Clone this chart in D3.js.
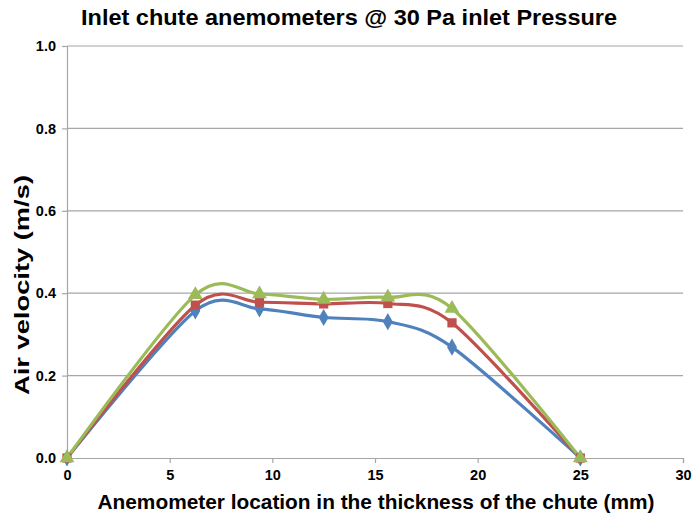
<!DOCTYPE html>
<html><head><meta charset="utf-8">
<script src="https://cdn.jsdelivr.net/npm/d3@7"></script>
<style>body{margin:0;background:#fff}svg{display:block}text{font-family:"Liberation Sans",Arial,sans-serif;font-weight:bold;fill:#000}</style>
</head><body>
<script>
const xPos = [0, 6.25, 9.375, 12.5, 15.625, 18.75, 25];
const seriesBlue = [0, 0.357, 0.362, 0.341, 0.331, 0.269, 0];
const seriesRed = [0, 0.371, 0.378, 0.374, 0.375, 0.328, 0];
const seriesGreen = [0, 0.396, 0.398, 0.385, 0.390, 0.363, 0];
const xTicks = [0, 5, 10, 15, 20, 25, 30];
const yTicks = [0, 0.2, 0.4, 0.6, 0.8, 1.0];
const title = "Inlet chute anemometers @ 30 Pa inlet Pressure";
const xTitle = "Anemometer location in the thickness of the chute (mm)";
const yTitle = "Air velocity (m/s)";

const W = 692, H = 519;
const svg = d3.select("body").append("svg").attr("width", W).attr("height", H);
const x = d3.scaleLinear().domain([0, 30]).range([67, 683]);
const y = d3.scaleLinear().domain([0, 1]).range([458, 46]);

svg.append("g").selectAll("line").data(yTicks.slice(1)).join("line")
  .attr("x1", x(0)).attr("x2", x(30)).attr("y1", d => y(d)).attr("y2", d => y(d))
  .attr("stroke", "#a6a6a6").attr("stroke-width", 1.2);

const xAxis = svg.append("g").attr("transform", `translate(0,${y(0)})`)
  .call(d3.axisBottom(x).tickValues(xTicks).tickFormat(d3.format("d")).tickSize(5).tickPadding(7));
const yAxis = svg.append("g").attr("transform", `translate(${x(0)},0)`)
  .call(d3.axisLeft(y).tickValues(yTicks).tickFormat(d3.format(".1f")).tickSize(5).tickPadding(6));
[xAxis, yAxis].forEach(g => {
  g.select(".domain").attr("stroke", "#a6a6a6").attr("stroke-width", 1.2);
  g.selectAll(".tick line").attr("stroke", "#a6a6a6").attr("stroke-width", 1.2);
  g.selectAll(".tick text").style("font-size", "14.5px").style("font-weight", "bold")
    .style("font-family", '"Liberation Sans",Arial,sans-serif').attr("fill", "#000");
});

const line = d3.line().x(d => x(d[0])).y(d => y(d[1])).curve(d3.curveCardinal.tension(0.1));
const series = [
  {v: seriesBlue, c: "#4f81bd", m: d3.symbolDiamond, s: 85},
  {v: seriesRed, c: "#c0504d", m: d3.symbolSquare, s: 85},
  {v: seriesGreen, c: "#9bbb59", m: d3.symbolTriangle, s: 95}
];
series.forEach(sr => {
  const pts = xPos.map((xv, i) => [xv, sr.v[i]]);
  svg.append("path").datum(pts).attr("d", line).attr("fill", "none")
    .attr("stroke", sr.c).attr("stroke-width", 3.2);
});
series.forEach(sr => {
  const pts = xPos.map((xv, i) => [xv, sr.v[i]]);
  svg.append("g").selectAll("path").data(pts).join("path")
    .attr("d", d3.symbol().type(sr.m).size(sr.s))
    .attr("transform", d => `translate(${x(d[0])},${y(d[1])})`)
    .attr("fill", sr.c);
});

svg.append("text").attr("x", 349).attr("y", 25).attr("text-anchor", "middle")
  .attr("textLength", 536).attr("lengthAdjust", "spacingAndGlyphs")
  .style("font-size", "22px").text(title);
svg.append("text").attr("x", 376).attr("y", 509).attr("text-anchor", "middle")
  .attr("textLength", 557).attr("lengthAdjust", "spacingAndGlyphs")
  .style("font-size", "21px").text(xTitle);
svg.append("text").attr("transform", "translate(29,285) rotate(-90)").attr("text-anchor", "middle")
  .attr("textLength", 220).attr("lengthAdjust", "spacingAndGlyphs")
  .style("font-size", "21px").text(yTitle);
</script>
</body></html>
